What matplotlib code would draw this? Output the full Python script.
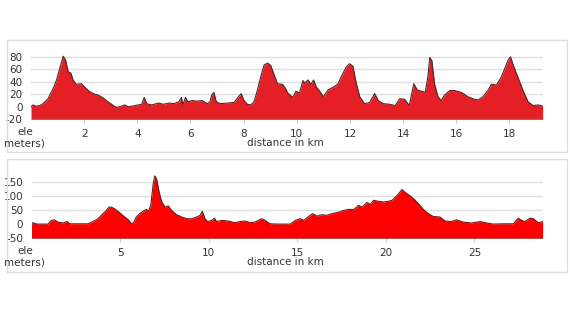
import matplotlib
matplotlib.use("Agg")
import matplotlib.pyplot as plt
from matplotlib.patches import Rectangle

plt.rcParams['axes.unicode_minus'] = False

# elevation profile 1 (km, meters)
km_1 = [0.0, 0.08, 0.2, 0.33, 0.45, 0.64, 0.83, 0.96, 1.08, 1.21, 1.3, 1.4, 1.5,
        1.58, 1.7, 1.9, 2.03, 2.21, 2.4, 2.52, 2.72, 2.9, 3.1, 3.22, 3.4, 3.53,
        3.66, 3.91, 4.16, 4.26, 4.35, 4.54, 4.79, 4.99, 5.18, 5.37, 5.56, 5.66,
        5.71, 5.81, 5.9, 6.06, 6.25, 6.44, 6.63, 6.73, 6.8, 6.88, 6.97, 7.13,
        7.38, 7.64, 7.82, 7.91, 8.0, 8.14, 8.27, 8.39, 8.52, 8.64, 8.77, 8.9,
        9.02, 9.15, 9.27, 9.46, 9.58, 9.66, 9.85, 9.97, 10.1, 10.23, 10.3, 10.42,
        10.53, 10.63, 10.73, 10.86, 11.0, 11.17, 11.36, 11.55, 11.67, 11.86,
        11.99, 12.11, 12.24, 12.37, 12.55, 12.74, 12.93, 13.06, 13.25, 13.5,
        13.7, 13.87, 14.06, 14.23, 14.4, 14.53, 14.68, 14.83, 14.93, 15.0,
        15.08, 15.18, 15.31, 15.43, 15.56, 15.75, 15.94, 16.19, 16.44, 16.69,
        16.82, 17.0, 17.2, 17.32, 17.51, 17.67, 17.8, 17.95, 18.04, 18.14,
        18.33, 18.52, 18.7, 18.89, 19.08, 19.25]
ele_1 = [0, 3, 1, 2, 5, 13, 29, 43, 61, 81, 75, 56, 54,
         43, 36, 37, 31, 24, 20, 19, 14, 8, 2, -1, 1, 3,
         0, 2, 4, 15, 5, 3, 6, 4, 6, 5, 8, 15,
         3, 15, 8, 10, 9, 10, 5, 8, 19, 23, 8, 5,
         6, 7, 17, 21, 11, 4, 3, 8, 27, 48, 67, 70,
         66, 51, 37, 36, 29, 22, 15, 25, 22, 42, 38, 43,
         36, 43, 32, 25, 16, 27, 31, 37, 48, 64,
         69, 65, 37, 16, 5, 7, 21, 10, 5, 4,
         2, 13, 12, 2, 37, 27, 25, 23, 48, 79,
         74, 37, 16, 10, 19, 26, 26, 23, 16, 12,
         11, 16, 27, 36, 35, 46, 59, 75, 80, 67,
         46, 25, 8, 2, 3, 1]

# elevation profile 2 (km, meters)
km_2 = [0.0, 0.07, 0.31, 0.93, 1.12, 1.3, 1.5, 1.78, 2.02, 2.15, 2.44, 2.81,
        3.19, 3.47, 3.75, 4.04, 4.22, 4.37, 4.5, 4.69, 4.98, 5.26, 5.45, 5.64,
        5.78, 5.91, 6.1, 6.29, 6.48, 6.6, 6.73, 6.86, 6.95, 7.06, 7.2, 7.35,
        7.54, 7.72, 7.91, 8.19, 8.47, 8.76, 9.04, 9.32, 9.51, 9.64, 9.79, 9.94,
        10.17, 10.32, 10.45, 10.73, 11.1, 11.48, 11.76, 12.05, 12.33, 12.61,
        12.99, 13.18, 13.46, 13.93, 14.3, 14.6, 14.89, 15.17, 15.36, 15.64,
        15.87, 16.11, 16.39, 16.67, 16.96, 17.33, 17.61, 17.9, 18.18, 18.46,
        18.65, 18.93, 19.12, 19.31, 19.59, 19.88, 20.12, 20.35, 20.63, 20.91,
        21.1, 21.38, 21.64, 21.83, 22.11, 22.39, 22.67, 23.05, 23.34, 23.71,
        23.99, 24.37, 24.84, 25.31, 25.69, 26.06, 26.63, 27.19, 27.47, 27.66,
        27.85, 28.13, 28.32, 28.6, 28.85]
ele_2 = [0, 5, 0, 0, 13, 15, 7, 4, 9, 1, 1, 1,
         1, 9, 19, 37, 48, 60, 60, 54, 40, 25, 16, 1,
         7, 25, 37, 45, 52, 45, 66, 137, 170, 160, 113, 78,
         60, 64, 48, 33, 25, 19, 19, 25, 31, 45, 19, 9,
         13, 21, 9, 13, 11, 5, 9, 11, 5, 7,
         19, 13, 1, 0, 0, 0, 13, 19, 13, 27,
         37, 28, 33, 31, 37, 42, 48, 52, 51, 66,
         60, 76, 70, 84, 80, 78, 80, 84, 101, 122,
         111, 99, 85, 72, 52, 37, 27, 25, 11, 9,
         15, 7, 4, 9, 4, 0, 1, 1, 21, 13,
         9, 21, 19, 5, 9]

W, H = 570, 319
fig = plt.figure(figsize=(W / 100, H / 100), dpi=100)
txt = '#333333'


def panel(box, ax_box, km, ele, color, ylim, yticks, xticks):
    x0, y0, x1, y1 = box
    fig.patches.append(Rectangle((x0 / W, 1 - y1 / H), (x1 - x0) / W, (y1 - y0) / H,
                                 transform=fig.transFigure, fill=False,
                                 edgecolor='#dddddd', linewidth=1))
    l, b, r, t = ax_box
    ax = fig.add_axes([l / W, 1 - b / H, (r - l) / W, (b - t) / H])
    ax.fill_between(km, ele, ylim[0], color=color, linewidth=0, zorder=2)
    ax.plot(km, ele, color='#333333', linewidth=0.8, zorder=3)
    ax.set_xlim(0, km[-1])
    ax.set_ylim(*ylim)
    ax.set_yticks(yticks)
    ax.set_xticks(xticks)
    ax.grid(axis='y', color='#dddddd', linewidth=1, zorder=0)
    for s in ax.spines.values():
        s.set_visible(False)
    ax.tick_params(axis='y', length=0, pad=6, labelsize=7.5, labelcolor=txt)
    ax.tick_params(axis='x', length=3, color='#cccccc', pad=4, labelsize=7.5,
                   labelcolor=txt)
    # cut-off y label and axis title
    fig.text(17 / W, 1 - (b + 12.5) / H, 'ele', fontsize=7.5, color=txt,
             va='center', ha='left')
    fig.text(4 / W, 1 - (b + 24) / H, 'meters)', fontsize=7.5, color=txt,
             va='center', ha='left')
    fig.text(285 / W, 1 - (b + 24) / H, 'distance in km', fontsize=7.5, color=txt,
             va='center', ha='center')
    return ax


panel((7, 40, 567, 152), (31, 119.3, 542.7, 53.7), km_1, ele_1, '#e41f26',
      (-20, 85), [-20, 0, 20, 40, 60, 80], [2, 4, 6, 8, 10, 12, 14, 16, 18])
panel((7, 159, 567, 272), (31.5, 238.3, 542.7, 171.6), km_2, ele_2, '#ff0000',
      (-50, 185), [-50, 0, 50, 100, 150], [5, 10, 15, 20, 25])

fig.savefig('out.png', dpi=100)
